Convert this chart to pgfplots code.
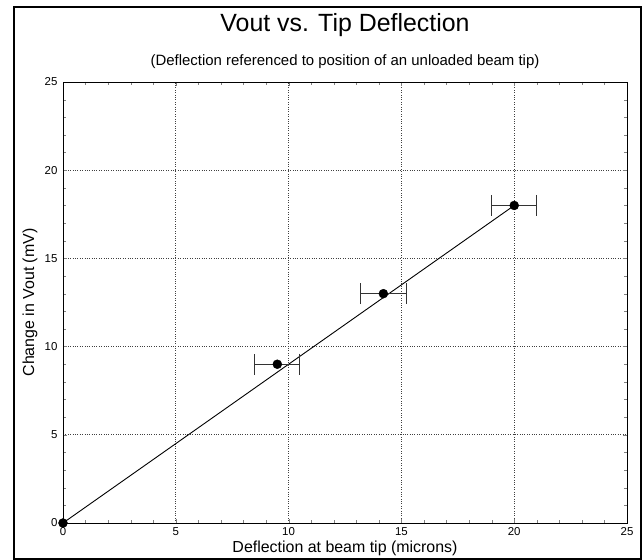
\documentclass[border=0pt]{standalone}
\usepackage{fontspec}
\setmainfont{Liberation Sans}
\usepackage{pgfplots}
\pgfplotsset{compat=1.18}

\begin{document}
\begin{tikzpicture}[x=1bp,y=1bp]
\useasboundingbox (0,0) rectangle (643,560);
% outer frame
\draw[line width=1.3bp] (14,1) rectangle (641,553);

\begin{axis}[
    at={(63bp,37bp)}, anchor=south west,
    scale only axis,
    width=564bp, height=441bp,
    xmin=0, xmax=25, ymin=0, ymax=25,
    xtick={0,5,...,25}, ytick={0,5,...,25},
    minor tick num=4,
    tick align=inside,
    major tick length=4bp, minor tick length=3bp,
    grid=major,
    major grid style={dotted, black!75, line width=0.7bp},
    axis line style={line width=0.8bp},
    clip=false,
    /pgf/number format/assume math mode=true,
    tick label style={font=\fontsize{11.5}{13}\selectfont},
    xticklabel style={yshift=-1bp},
    yticklabel style={xshift=-2bp},
    label style={font=\fontsize{16}{18}\selectfont},
    xlabel={Deflection at beam tip (microns)},
    ylabel={Change in Vout (mV)},
    xlabel style={at={(axis description cs:0.5,-0.057)}, anchor=center},
    ylabel style={at={(axis description cs:-0.0585,0.5)}, anchor=center},
]
% fitted line
\addplot[black, line width=0.9bp] coordinates {(0,0) (20,18)};
% origin point
\addplot[only marks, mark=*, mark size=4.5bp, black] coordinates {(0,0)};
% measured points with horizontal error bars
\addplot[only marks, mark=*, mark size=4.5bp, black,
    error bars/.cd, x dir=both, x explicit,
    error mark=|,
    error bar style={line width=0.8bp, black!80},
    error mark options={mark size=10.5bp, line width=0.8bp, black!80}]
    coordinates {
    (9.5,9) +- (1,0)
    (14.2,13) +- (1,0)
    (20,18) +- (1,0)
};
\end{axis}

\node[font=\fontsize{25}{28}\selectfont] at (345,535) {Vout vs. Tip Deflection};
\node[font=\fontsize{15}{17}\selectfont] at (345,498) {(Deflection referenced to position of an unloaded beam tip)};
\end{tikzpicture}
\end{document}
